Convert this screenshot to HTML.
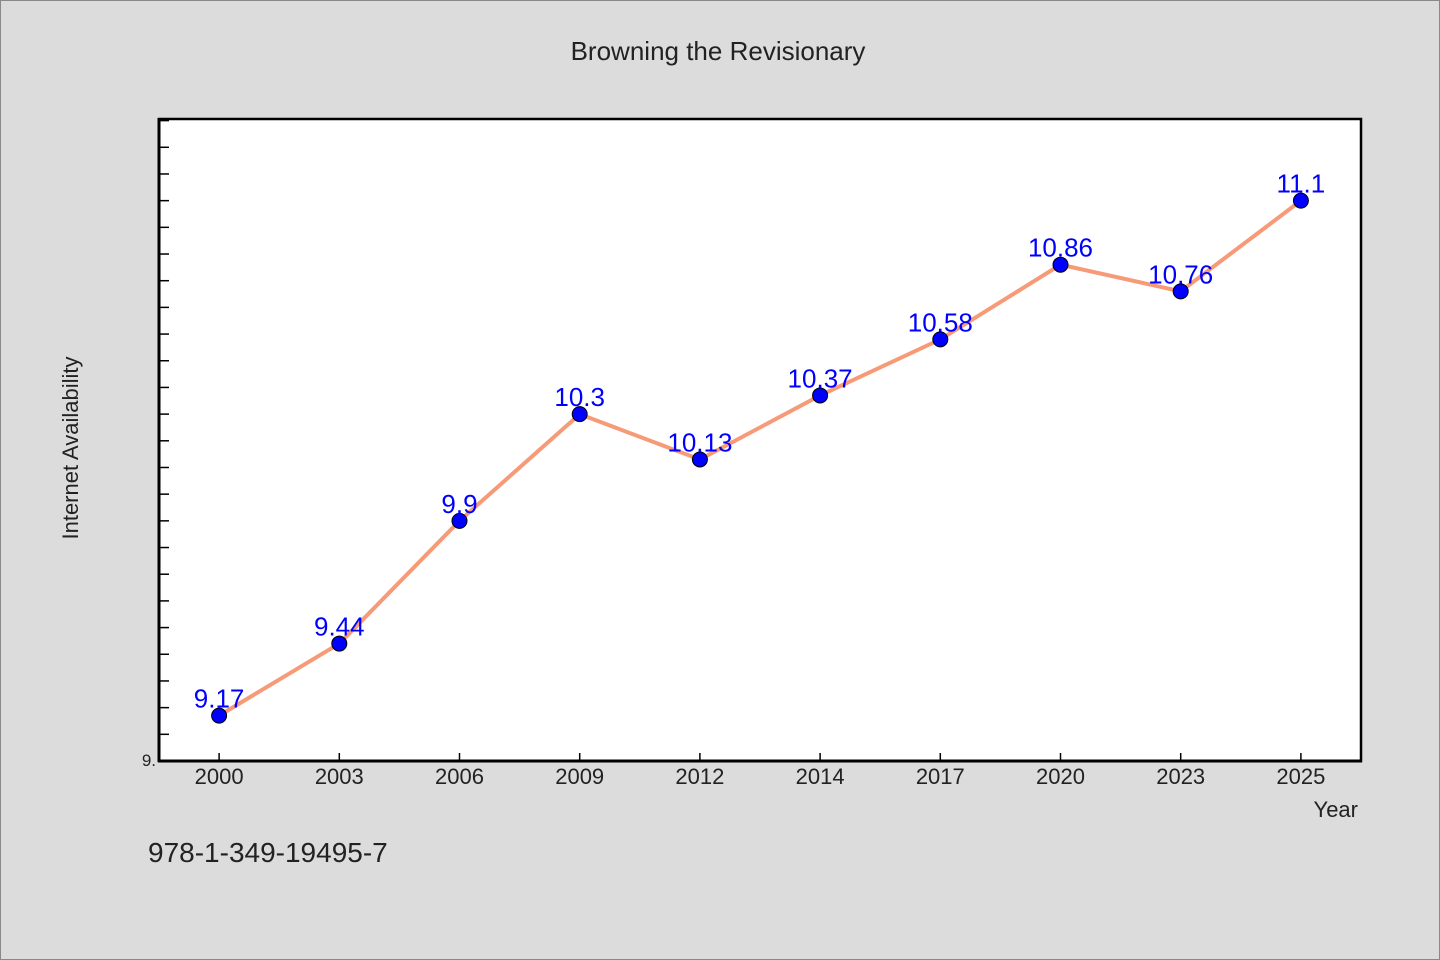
<!DOCTYPE html>
<html><head><meta charset="utf-8"><style>
body{margin:0;background:#dcdcdc;}
svg{display:block;font-family:"WenQuanYi Zen Hei","Liberation Sans",sans-serif;}
</style></head><body>
<svg id="c" width="1440" height="960">
<rect x="0.5" y="0.5" width="1439" height="959" fill="#dcdcdc" stroke="#888"/>
<text x="718" y="60" text-anchor="middle" font-size="26" fill="#222">Browning the Revisionary</text>
<rect x="159" y="119" width="1202" height="642" fill="#fff" stroke="#000" stroke-width="2.5"/>
<line x1="159" y1="118" x2="159" y2="762" stroke="#000" stroke-width="3"/>
<line x1="158" y1="761" x2="1362" y2="761" stroke="#000" stroke-width="3"/>
<text x="78" y="448" text-anchor="middle" font-size="22" fill="#222" transform="rotate(-90 78 448)">Internet Availability</text>
<text x="1358" y="817" text-anchor="end" font-size="22" fill="#222">Year</text>
<text x="148" y="862" font-size="28" fill="#222">978-1-349-19495-7</text>
<text x="156" y="766" text-anchor="end" font-size="17" fill="#222">9.</text>
<g id="g"></g>
</svg>
<script>
const categories=["2000","2003","2006","2009","2012","2014","2017","2020","2023","2025"];
const values=[9.17,9.44,9.9,10.3,10.13,10.37,10.58,10.86,10.76,11.1];
const labels=["9.17","9.44","9.9","10.3","10.13","10.37","10.58","10.86","10.76","11.1"];
const yMin=9.0, yMax=11.406;
const L=159,R=1361,T=119,B=761;
const band=(R-L)/categories.length;
const xs=i=>L+band*(i+0.5);
const ys=v=>B-(v-yMin)/(yMax-yMin)*(B-T);
const NS="http://www.w3.org/2000/svg";
const g=document.getElementById('g');
function mk(t,a){const e=document.createElementNS(NS,t);for(const k in a)e.setAttribute(k,a[k]);g.appendChild(e);return e;}
for(let v=yMin+0.1;v<yMax;v+=0.1){
 const e=mk('line',{x1:L,x2:L+10,y1:ys(v),y2:ys(v),stroke:'#000','stroke-width':1.5});
 
 
}
categories.forEach((c,i)=>{
 const t=mk('line',{x1:xs(i),x2:xs(i),y1:B,y2:B-8,stroke:'#000','stroke-width':1.5});
 
 
 const l=mk('text',{x:xs(i),y:B+23,'text-anchor':'middle','font-size':22,fill:'#222'});
 l.textContent=c;
 
 
});
const line=mk('polyline',{points:values.map((v,i)=>xs(i)+','+ys(v)).join(' '),fill:'none',stroke:'#f79a77','stroke-width':4});


values.forEach((v,i)=>{
 const p=mk('circle',{cx:xs(i),cy:ys(v),r:7.5,fill:'#0000ff',stroke:'#000','stroke-width':1});
 
 
 const t=mk('text',{x:xs(i),y:ys(v)-8,'text-anchor':'middle','font-size':26,fill:'#0000ff'});
 t.textContent=labels[i];
 
 
});
</script>
</body></html>
